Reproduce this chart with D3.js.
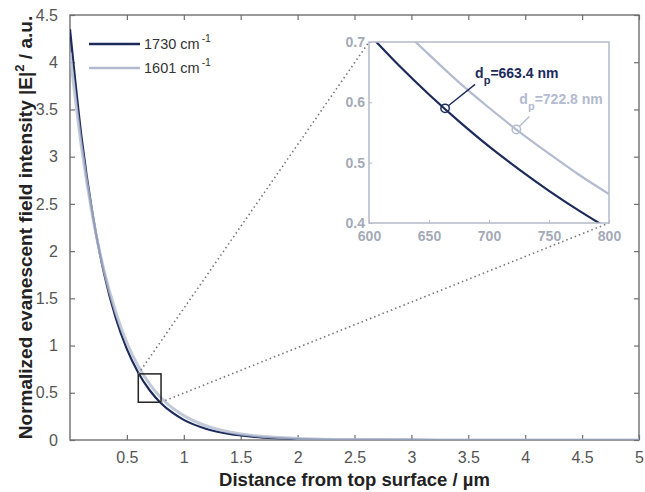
<!DOCTYPE html>
<html><head><meta charset="utf-8">
<script src="https://cdn.jsdelivr.net/npm/d3@7"></script>
<style>
html,body{margin:0;padding:0;background:#fff;}
svg{display:block;font-family:"Liberation Sans",Arial,Helvetica,sans-serif;}
</style></head>
<body>
<svg id="chart" width="645" height="492"></svg>
<script>
// ---- data ----
const depth   = [0,0.1,0.2,0.3,0.4,0.5,0.6,0.7,0.8,0.9,1.0,1.2,1.4,1.6,1.8,2.0,2.5,3,3.5,4,4.5,5];
const i1730   = [4.35,3.22,2.38,1.76,1.30,0.963,0.713,0.527,0.390,0.289,0.213,0.117,0.064,0.035,0.019,0.010,0.002,0.0005,0,0,0,0];
const i1601   = [4.10,3.11,2.36,1.79,1.36,1.03,0.780,0.591,0.448,0.340,0.258,0.148,0.085,0.049,0.028,0.016,0.004,0.001,0,0,0,0];
const insetNm   = [600,625,650,675,700,725,750,775,800];
const inset1730 = [0.713,0.661,0.613,0.5685,0.527,0.489,0.4534,0.4205,0.390];
const inset1601 = [0.779,0.727,0.679,0.633,0.591,0.5515,0.515,0.480,0.448];
const seriesNames = ["1730","1601"];
const dpNm = [663.4, 722.8];
const dpI  = [0.59, 0.555];
const dpLabels = ["=663.4 nm","=722.8 nm"];
const xTicks = [0.5,1,1.5,2,2.5,3,3.5,4,4.5,5];
const yTicks = [0,0.5,1,1.5,2,2.5,3,3.5,4,4.5];
const insetXTicks = [600,650,700,750,800];
const insetYTicks = [0.4,0.5,0.6,0.7];
const zoomBox = {x0:0.6,x1:0.8,y0:0.4,y1:0.7};

// ---- styles ----
const dark = "#1c2b5c", light = "#b3bbd0";
const frameCol = "#6e6e6e", tickTxt = "#555";
const insetFrame = "#b3b9c8", insetTxt = "#a3aab8";
const FF = "'Liberation Sans',Arial,Helvetica,sans-serif";

const svg = d3.select("#chart");
const M = {l:70, r:639, t:15, b:440};
const x = d3.scaleLinear().domain([0,5]).range([M.l, M.r]);
const y = d3.scaleLinear().domain([0,4.5]).range([M.b, M.t]);

const defs = svg.append("defs");
defs.append("clipPath").attr("id","mainClip").append("rect")
  .attr("x",M.l).attr("y",M.t).attr("width",M.r-M.l).attr("height",M.b-M.t);

// axes (inward ticks)
const fmt = d => String(d);
const gAx = svg.append("g");
gAx.append("g").attr("transform",`translate(0,${M.b})`)
  .call(d3.axisBottom(x).tickValues(xTicks).tickSize(-5).tickPadding(12).tickFormat(fmt))
  .call(g=>g.select(".domain").remove());
gAx.append("g").attr("transform",`translate(0,${M.t})`)
  .call(d3.axisTop(x).tickValues(xTicks).tickSize(-5).tickFormat(""))
  .call(g=>g.select(".domain").remove());
gAx.append("g").attr("transform",`translate(${M.l},0)`)
  .call(d3.axisLeft(y).tickValues(yTicks).tickSize(-5).tickPadding(12).tickFormat(fmt))
  .call(g=>g.select(".domain").remove());
gAx.append("g").attr("transform",`translate(${M.r},0)`)
  .call(d3.axisRight(y).tickValues(yTicks).tickSize(-5).tickFormat(""))
  .call(g=>g.select(".domain").remove());
gAx.selectAll(".tick line").attr("stroke",frameCol).attr("stroke-width",1.2);
gAx.selectAll(".tick text").attr("fill",tickTxt).style("font-size","16px").style("font-family",FF);

svg.append("rect").attr("x",M.l).attr("y",M.t).attr("width",M.r-M.l).attr("height",M.b-M.t)
  .attr("fill","none").attr("stroke",frameCol).attr("stroke-width",1.4);

// curves
const line = d3.line().x(d=>x(d[0])).y(d=>y(d[1])).curve(d3.curveMonotoneX);
const gCurves = svg.append("g").attr("clip-path","url(#mainClip)");
gCurves.append("path").datum(depth.map((d,i)=>[d,i1730[i]]))
  .attr("d",line).attr("fill","none").attr("stroke",dark).attr("stroke-width",2.2);
gCurves.append("path").datum(depth.map((d,i)=>[d,i1601[i]]))
  .attr("d",line).attr("fill","none").attr("stroke",light).attr("stroke-width",3).attr("stroke-opacity",0.8);

// zoom box
svg.append("rect").attr("x",x(zoomBox.x0)).attr("y",y(zoomBox.y1))
  .attr("width",x(zoomBox.x1)-x(zoomBox.x0)).attr("height",y(zoomBox.y0)-y(zoomBox.y1))
  .attr("fill","none").attr("stroke","#222").attr("stroke-width",1.5);

// inset
const I = {l:369, r:609, t:42, b:223};
const ix = d3.scaleLinear().domain([600,800]).range([I.l,I.r]);
const iy = d3.scaleLinear().domain([0.4,0.7]).range([I.b,I.t]);

svg.append("line").attr("x1",x(zoomBox.x0)).attr("y1",y(zoomBox.y1)).attr("x2",I.l).attr("y2",I.t)
  .attr("stroke","#777").attr("stroke-width",1.6).attr("stroke-dasharray","1.5,3");
svg.append("line").attr("x1",x(zoomBox.x1)).attr("y1",y(zoomBox.y0)).attr("x2",I.r).attr("y2",I.b)
  .attr("stroke","#777").attr("stroke-width",1.6).attr("stroke-dasharray","1.5,3");

svg.append("rect").attr("x",I.l).attr("y",I.t).attr("width",I.r-I.l).attr("height",I.b-I.t).attr("fill","#fff");
defs.append("clipPath").attr("id","insetClip").append("rect")
  .attr("x",I.l).attr("y",I.t).attr("width",I.r-I.l).attr("height",I.b-I.t);

const gi = svg.append("g");
gi.append("g").attr("transform",`translate(0,${I.b})`)
  .call(d3.axisBottom(ix).tickValues(insetXTicks).tickSize(-3).tickPadding(8))
  .call(g=>g.select(".domain").remove());
gi.append("g").attr("transform",`translate(${I.l},0)`)
  .call(d3.axisLeft(iy).tickValues(insetYTicks).tickSize(-3).tickPadding(4).tickFormat(d3.format(".1f")))
  .call(g=>g.select(".domain").remove());
gi.selectAll(".tick line").attr("stroke",insetFrame);
gi.selectAll(".tick text").attr("fill",insetTxt).style("font-size","14px").style("font-weight","bold")
  .style("font-family",FF);

const iline = d3.line().x(d=>ix(d[0])).y(d=>iy(d[1])).curve(d3.curveMonotoneX);
const gic = gi.append("g").attr("clip-path","url(#insetClip)");
gic.append("path").datum(insetNm.map((d,i)=>[d,inset1601[i]]))
  .attr("d",iline).attr("fill","none").attr("stroke",light).attr("stroke-width",2.2);
gic.append("path").datum(insetNm.map((d,i)=>[d,inset1730[i]]))
  .attr("d",iline).attr("fill","none").attr("stroke",dark).attr("stroke-width",2.2);
gi.append("rect").attr("x",I.l).attr("y",I.t).attr("width",I.r-I.l).attr("height",I.b-I.t)
  .attr("fill","none").attr("stroke",insetFrame).attr("stroke-width",1.5);

// markers & annotations
const annCols = [dark, light];
const annOff = [{lx:30,ly:-24,tx:30,ty:-30},{lx:13,ly:-13,tx:3,ty:-25}];
dpNm.forEach((v,i)=>{
  const cx = ix(v), cy = iy(dpI[i]);
  gi.append("circle").attr("cx",cx).attr("cy",cy).attr("r",4.2)
    .attr("fill","none").attr("stroke",annCols[i]).attr("stroke-width",1.5);
  const ang = Math.atan2(annOff[i].ly, annOff[i].lx);
  gi.append("line").attr("x1",cx+4.2*Math.cos(ang)).attr("y1",cy+4.2*Math.sin(ang))
    .attr("x2",cx+annOff[i].lx).attr("y2",cy+annOff[i].ly)
    .attr("stroke",annCols[i]).attr("stroke-width",1.4);
  const t = gi.append("text").attr("x",cx+annOff[i].tx).attr("y",cy+annOff[i].ty)
    .attr("fill",annCols[i]).style("font-size","14px").style("font-weight","bold");
  t.append("tspan").text("d");
  t.append("tspan").attr("dy",6).style("font-size","11px").text("p");
  t.append("tspan").attr("dy",-6).text(dpLabels[i]);
});

// legend
const leg = svg.append("g");
seriesNames.forEach((s,i)=>{
  const ly = 44 + i*24;
  leg.append("line").attr("x1",89).attr("x2",140).attr("y1",ly).attr("y2",ly)
    .attr("stroke",annCols[i]).attr("stroke-width",2.6);
  const t = leg.append("text").attr("x",144).attr("y",ly+5).attr("fill","#333").style("font-size","14.5px");
  t.append("tspan").text(s+" cm");
  t.append("tspan").attr("dx",2).attr("dy",-7).style("font-size","10.5px").text("-1");
});

// axis titles
svg.append("text").attr("x",(M.l+M.r)/2).attr("y",486).attr("text-anchor","middle")
  .attr("fill","#222").style("font-size","18.5px").style("font-weight","bold")
  .text("Distance from top surface / µm");
const yt = svg.append("text").attr("transform",`translate(32,${(M.t+M.b)/2}) rotate(-90)`)
  .attr("text-anchor","middle").attr("fill","#222").style("font-size","19px").style("font-weight","bold");
yt.append("tspan").text("Normalized evanescent field intensity |E|");
yt.append("tspan").attr("dy",-8).style("font-size","13px").text("2");
yt.append("tspan").attr("dy",8).text(" / a.u.");
</script>
</body></html>
